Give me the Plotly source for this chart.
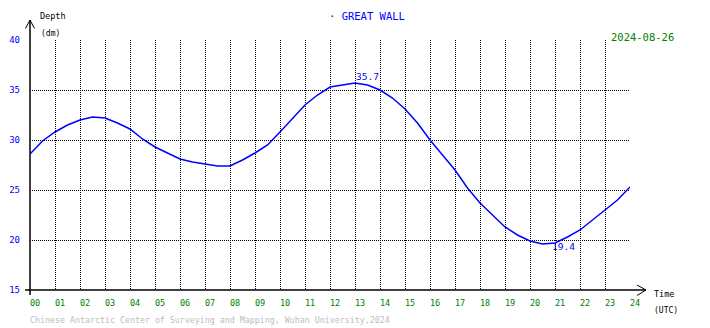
import plotly.graph_objects as go

hours = [0, 0.5, 1, 1.5, 2, 2.5, 3, 3.5, 4, 4.5, 5, 5.5, 6, 6.5, 7, 7.5, 8, 8.5,
         9, 9.5, 10, 10.5, 11, 11.5, 12, 12.5, 13, 13.5, 14, 14.5, 15, 15.5, 16,
         16.5, 17, 17.5, 18, 18.5, 19, 19.5, 20, 20.5, 21, 21.5, 22, 22.5, 23,
         23.5, 24]
depth = [28.6, 29.9, 30.8, 31.5, 32.0, 32.3, 32.2, 31.7, 31.1, 30.1, 29.3, 28.7,
         28.1, 27.8, 27.6, 27.4, 27.4, 28.0, 28.7, 29.5, 30.8, 32.2, 33.5, 34.5,
         35.3, 35.5, 35.7, 35.5, 35.0, 34.2, 33.1, 31.7, 30.0, 28.5, 27.0, 25.2,
         23.7, 22.5, 21.3, 20.5, 19.9, 19.6, 19.7, 20.3, 21.0, 22.0, 23.0, 24.0,
         25.3]
x_ticks = list(range(0, 25))
x_labels = ["%02d" % h for h in x_ticks]
y_ticks = [15, 20, 25, 30, 35, 40]
max_hour, max_val = 13.0, 35.7
min_hour, min_val = 20.85, 19.4
station = "GREAT WALL"
date_str = "2024-08-26"
footer = "Chinese Antarctic Center of Surveying and Mapping, Wuhan University,2024"

BLUE = "#0000ff"
GREEN = "#008000"
MONO = "DejaVu Sans Mono"

fig = go.Figure()
fig.add_trace(go.Scatter(x=hours, y=depth, mode="lines",
                         line=dict(color=BLUE, width=1.5), hoverinfo="skip"))

fig.update_layout(
    width=710, height=328,
    margin=dict(l=30, r=80, t=40, b=38, autoexpand=False),
    paper_bgcolor="white", plot_bgcolor="white",
    showlegend=False,
    xaxis=dict(range=[0, 24], tickvals=x_ticks, ticktext=x_labels, automargin=False,
               showgrid=True, gridcolor="black", gridwidth=1, griddash="1px,1px",
               zeroline=False, showline=False, ticks="",
               tickfont=dict(family=MONO, size=8.5, color=GREEN),
               ticklabelshift=5, ticklabelstandoff=6),
    yaxis=dict(range=[15, 40], tickvals=y_ticks, automargin=False,
               showgrid=True, gridcolor="black", gridwidth=1, griddash="1px,1px",
               zeroline=False, showline=False, ticks="",
               tickfont=dict(family=MONO, size=9, color=BLUE),
               ticklabelstandoff=9),
)

# axes with arrows (paper coords: plot is 600 x 250 px)
def px(xpix):
    return (xpix - 30) / 600.0

def py(ypix):
    return (290 - ypix) / 250.0

ax_line = dict(color="black", width=1.5)
shapes = [
    dict(type="line", xref="paper", yref="paper", x0=px(30), x1=px(30), y0=py(295), y1=py(20), line=ax_line),
    dict(type="line", xref="paper", yref="paper", x0=px(25), x1=px(646), y0=py(290), y1=py(290), line=ax_line),
    dict(type="line", xref="paper", yref="paper", x0=px(30), x1=px(25.5), y0=py(20), y1=py(28.5), line=dict(color="black", width=1)),
    dict(type="line", xref="paper", yref="paper", x0=px(30), x1=px(34.5), y0=py(20), y1=py(28.5), line=dict(color="black", width=1)),
    dict(type="line", xref="paper", yref="paper", x0=px(646), x1=px(637), y0=py(290), y1=py(285), line=dict(color="black", width=1)),
    dict(type="line", xref="paper", yref="paper", x0=px(646), x1=px(637), y0=py(290), y1=py(295.5), line=dict(color="black", width=1)),
]
fig.update_layout(shapes=shapes)

def txt(xpix, ypix, text, size, color, xanchor="left"):
    fig.add_annotation(xref="paper", yref="paper", x=px(xpix), y=py(ypix), text=text,
                       showarrow=False, xanchor=xanchor, yanchor="middle",
                       font=dict(family=MONO, size=size, color=color), borderpad=0)

txt(39, 16, "Depth", 8.5, "black")
txt(40, 34, "(dm)", 8, "black")
txt(328, 16, "· " + station, 10.5, BLUE)
txt(610, 37, date_str, 10.5, GREEN)
txt(653, 294, "Time", 8.5, "black")
txt(653, 310, "(UTC)", 8, "black")
txt(29, 320, footer, 8.3, "#bdbdbd")

fig.add_annotation(x=max_hour, y=max_val, text="%.1f" % max_val, showarrow=False,
                   xanchor="left", yanchor="bottom", borderpad=0,
                   font=dict(family=MONO, size=9.5, color=BLUE))
fig.add_annotation(x=min_hour, y=min_val, text="%.1f" % min_val, showarrow=False,
                   xanchor="left", yanchor="top", borderpad=0, yshift=6,
                   font=dict(family=MONO, size=9.5, color=BLUE))

fig.write_html("out.html", config={"displayModeBar": False},
               post_script="document.body.style.margin='0px';document.body.style.padding='0px';")
